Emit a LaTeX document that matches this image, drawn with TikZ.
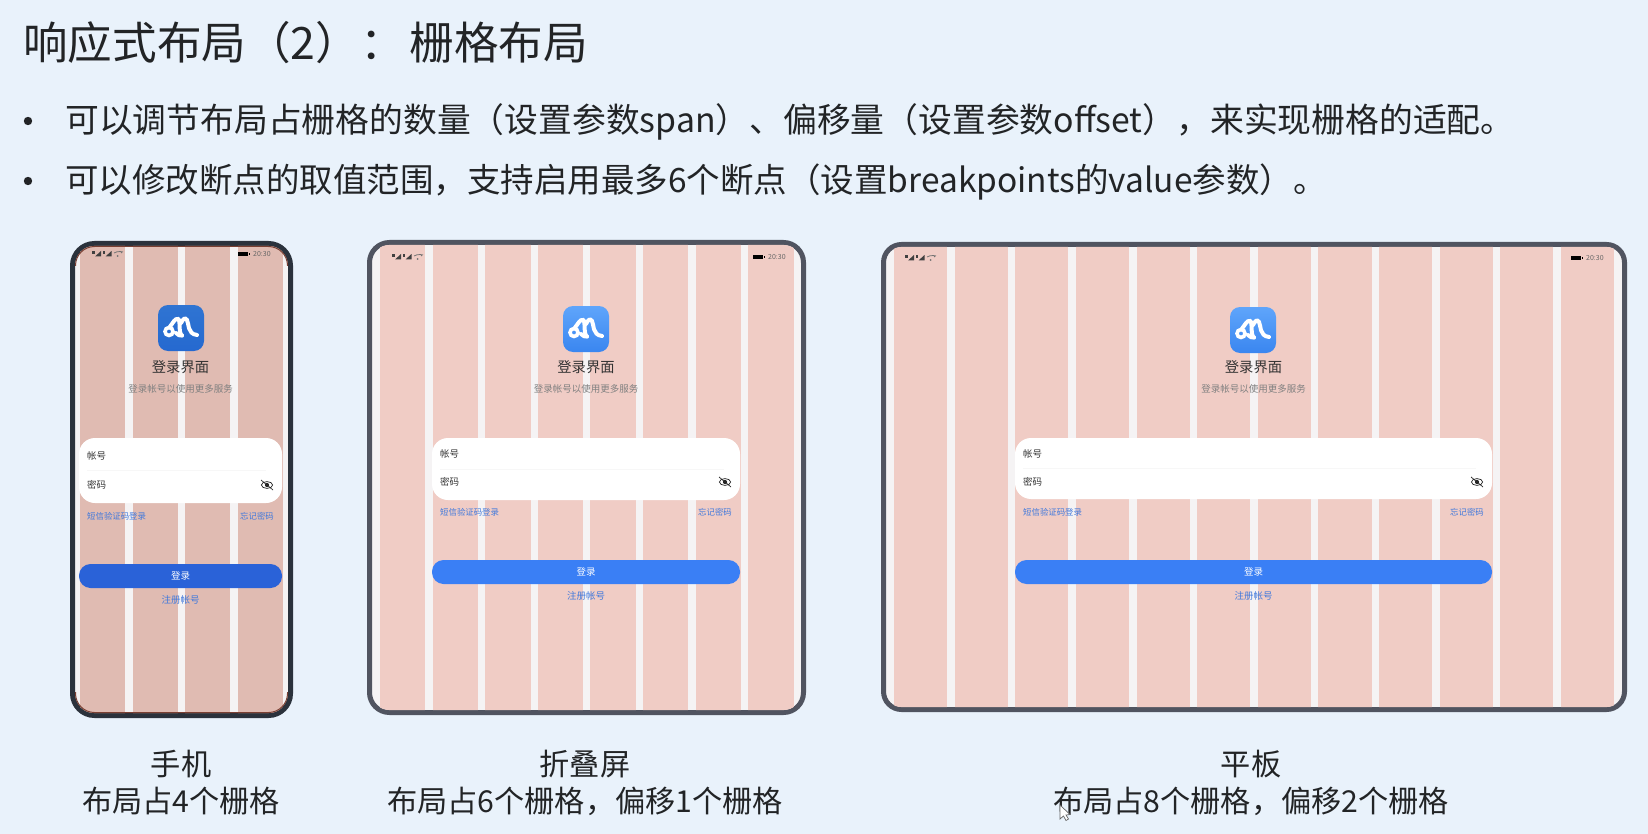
\documentclass[tikz,border=0pt]{standalone}
\usepackage{fontspec}
\setmainfont{Noto Sans CJK SC}
\usetikzlibrary{calc}
\definecolor{bgblue}{HTML}{E9F2FB}
\definecolor{gapwhite}{HTML}{F5F3F4}
\definecolor{gridpink}{HTML}{F0CCC5}
\definecolor{griddark}{HTML}{E0BBB2}
\definecolor{linkblue}{HTML}{3F78DC}
\definecolor{textdark}{HTML}{222426}
\definecolor{phonetop}{HTML}{2F74D2}
\definecolor{phonebot}{HTML}{2569D0}
\definecolor{phonebtn}{HTML}{2A62D8}
\definecolor{padtop}{HTML}{5FA5FB}
\definecolor{padbot}{HTML}{3A86F0}
\definecolor{padbtn}{HTML}{3A7FF5}
\definecolor{phoneedge}{HTML}{2B323C}
\definecolor{padedge}{HTML}{505460}
\definecolor{phonerim}{HTML}{7A3F32}
\newcommand{\fsize}[1]{\fontsize{#1}{#1}\selectfont}
% logo: name, x, y, top colour, bottom colour
\newcommand{\applogo}[5]{
\draw (#2,#3) node[logobox,top color=#4,bottom color=#5] (#1logo) {};
\begin{scope}[shift={(#2,#3)},white,line width=4,line cap=round]
\draw[line width=3.6] (-12,3.5) circle (4);
\draw (-11,-1.5) .. controls (-8,-5) and (-6,-10) .. (-3,-9) .. controls (0,-8) and (-3,5) .. (1,7.5);
\draw (0,-5) .. controls (2,-9) and (4,-11) .. (6,-8) .. controls (8,-5) and (6,6) .. (16,7);
\draw (-5,5) .. controls (-3,7) and (-1,8) .. (1,7.5);
\end{scope}
}
% status bar: name, left x, battery x, y
\newcommand{\statusbar}[4]{
\foreach \k in {0,10.5} {
\fill[black!75] ($(#2,#4)+(\k,-2.5)$) rectangle +(2.5,2.5);
\fill[black!75] ($(#2,#4)+(\k+3,2.5)$) -- +(6,0) -- +(6,-5.5) -- cycle;
}
\draw[black!55,line width=0.8] ($(#2,#4)+(22,-1)$) .. controls +(2.5,-2) and +(5,-2) .. +(7,0);
\fill[black!55] ($(#2,#4)+(25.5,2)$) circle (1);
\fill[black] (#3,#4-2) rectangle +(10,4);
\fill[black] (#3+10.5,#4-1) rectangle +(1,2);
\draw (#3+15,#4) node[anchor=west,uitext,text=black!60,font=\fsize{7}] (#1time) {20:30};
}
% login form: name, centre x, half width, button colour, card bottom, account y, password y, link y, button top
\newcommand{\loginui}[9]{
\draw (#2,367) node[uitext,font=\fsize{14.3},text=black!80] (#1head) {登录界面};
\draw (#2,389) node[uitext,font=\fsize{9.5},text=black!50] (#1sub) {登录帐号以使用更多服务};
\fill[white,rounded corners=16] (#2-#3,438) rectangle (#2+#3,#5);
\draw[black!3,line width=0.5] (#2-#3+8,{(438+#5)/2}) -- (#2+#3-16,{(438+#5)/2});
\draw (#2-#3+8,#6) node[anchor=west,uitext,text=black!80] (#1user) {帐号};
\draw (#2-#3+8,#7) node[anchor=west,uitext,text=black!80] (#1pass) {密码};
\draw[black!85,line width=0.7] (#2+#3-15,#7) ellipse (5.6 and 3.4);
\fill[black!85] (#2+#3-15,#7) circle (2.1);
\draw[black!85,line width=0.7] (#2+#3-21,#7-5) -- (#2+#3-9,#7+5);
\draw (#2-#3+8,#8) node[anchor=west,uitext,font=\fsize{8.4},text=linkblue] (#1sms) {短信验证码登录};
\draw (#2+#3-8,#8) node[anchor=east,uitext,font=\fsize{8.4},text=linkblue] (#1forget) {忘记密码};
\fill[#4,rounded corners=11.5] (#2-#3,#9) rectangle (#2+#3,#9+24);
\draw (#2,#9+12) node[uitext,text=white] (#1login) {登录};
\draw (#2,#9+36) node[uitext,text=linkblue] (#1reg) {注册帐号};
}
\begin{document}
\begin{tikzpicture}[x=1pt,y=-1pt,
title/.style={anchor=west,inner sep=0,text=textdark,font=\fsize{44.6}},
point/.style={anchor=west,inner sep=0,text=textdark},
caption/.style={inner sep=0,text=textdark,font=\fsize{30.2}},
uitext/.style={inner sep=0,font=\fsize{9.5}},
logobox/.style={rectangle,rounded corners=10,minimum size=46,inner sep=0},
frame/.style={line width=5,fill=gapwhite}]
\useasboundingbox (0,0) rectangle (1648,834);
\fill[bgblue] (0,0) rectangle (1648,834);

\draw (23,43) node[title] (head) {响应式布局（2）：\hspace{5pt}栅格布局};
\fill[textdark] (28,121) circle (4.2);
\fill[textdark] (28,181) circle (4.2);
\draw (65,122) node[point,font=\fsize{33.8}] (pointa) {可以调节布局占栅格的数量（设置参数span）、偏移量（设置参数offset），来实现栅格的适配。};
\draw (65,182) node[point,font=\fsize{33.5}] (pointb) {可以修改断点的取值范围，支持启用最多6个断点（设置breakpoints的value参数）。};

% phone
\draw[frame,draw=phoneedge,rounded corners=22] (72.5,243.5) rectangle (290.5,715.5);
\begin{scope}
\clip[rounded corners=19] (75,246) rectangle (288,713);
\foreach \i in {0,...,3} \fill[griddark] (80+\i*52.7,240) rectangle (125+\i*52.7,720);
\end{scope}
\draw[phonerim,line width=1,rounded corners=19] (75.5,266) -- (75.5,246.5) -- (287.5,246.5) -- (287.5,266);
\draw[phonerim,line width=1,rounded corners=19] (75.5,692) -- (75.5,712.5) -- (287.5,712.5) -- (287.5,692);
\statusbar{ph}{92}{238}{254}
\applogo{ph}{181}{328}{phonetop}{phonebot}
\loginui{ph}{180.5}{101.5}{phonebtn}{503}{456}{485}{516}{564}

% foldable
\draw[frame,draw=padedge,rounded corners=20] (369.5,242.5) rectangle (803.5,712.5);
\begin{scope}
\clip[rounded corners=17] (372,245) rectangle (801,710);
\foreach \i in {0,...,7} \fill[gridpink] (380+\i*52.6,240) rectangle (425.3+\i*52.6,720);
\end{scope}
\statusbar{fd}{392}{753}{257}
\applogo{fd}{586}{329}{padtop}{padbot}
\loginui{fd}{586}{154}{padbtn}{500}{454}{482}{512}{560}

% tablet
\draw[frame,draw=padedge,rounded corners=18] (883.5,244.5) rectangle (1624.5,709.5);
\begin{scope}
\clip[rounded corners=15] (886,247) rectangle (1622,707);
\foreach \i in {0,...,11} \fill[gridpink] (894+\i*60.64,240) rectangle (947+\i*60.64,720);
\end{scope}
\statusbar{tb}{905}{1571}{258}
\applogo{tb}{1253}{330}{padtop}{padbot}
\loginui{tb}{1253.5}{238.5}{padbtn}{499}{454}{482}{512}{560}

\draw (181,764) node[caption] (phname) {手机};
\draw (181,801) node[caption] (phnote) {布局占4个栅格};
\draw (585,764) node[caption] (fdname) {折叠屏};
\draw (585,801) node[caption] (fdnote) {布局占6个栅格，偏移1个栅格};
\draw (1251,764) node[caption] (tbname) {平板};
\draw (1251,801) node[caption] (tbnote) {布局占8个栅格，偏移2个栅格};

% mouse pointer
\draw[black!60,fill=white,line width=0.7] (1060,805) -- (1060,819) -- (1063.5,816) -- (1066,820.5) -- (1068.5,819) -- (1066,815) -- (1070,814.5) -- cycle;
\end{tikzpicture}
\end{document}
